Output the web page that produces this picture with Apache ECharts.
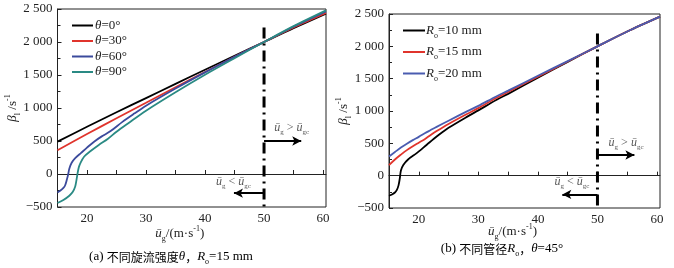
<!DOCTYPE html>
<html>
<head>
<meta charset="utf-8">
<script src="https://cdn.jsdelivr.net/npm/echarts@6/dist/echarts.min.js"></script>
<style>
  html, body { margin: 0; padding: 0; background: #fff; }
  #chart { width: 674px; height: 268px; }
</style>
</head>
<body>
<div id="chart"></div>
<script>
// panel (a): different swirl strength theta, Ro = 15 mm
const theta0 = [[15,490],[20,715],[25,935],[30,1150],[35,1365],[40,1580],[45,1790],[50,2000],[55,2210],[60.5,2430]];
const theta30 = [[15,360],[20,605],[25,845],[30,1080],[35,1315],[40,1545],[45,1775],[50,2000],[55,2220],[60.5,2440]];
const theta60 = [[15,-280],[15.5,-250],[16,-210],[16.3,-170],[16.6,-80],[16.8,-10],[17,80],[17.4,170],[18,240],[19,320],[20,400],[21.2,490],[22.5,570],[24,650],[26,790],[28,915],[30,1035],[35,1295],[40,1540],[45,1775],[50,2000],[55,2232],[60.5,2465]];
const theta90 = [[15,-440],[16,-395],[17,-330],[17.6,-270],[18,-190],[18.2,-100],[18.4,10],[18.6,100],[18.9,170],[19.5,262],[20.5,340],[22,440],[23.5,530],[25,640],[27,770],[30,960],[35,1240],[40,1505],[45,1755],[50,2000],[55,2240],[60.5,2480]];

// panel (b): different pipe radius Ro, theta = 45
const ro10 = [[15,-310],[15.5,-290],[16,-260],[16.3,-225],[16.6,-150],[16.8,-50],[17,80],[17.4,165],[18.2,250],[19.6,345],[21.3,475],[23,605],[24,675],[25,740],[28,905],[30,1010],[33,1170],[35,1265],[40,1515],[45,1760],[50,2000],[55,2230],[60.5,2460]];
const ro15 = [[15,162],[16,250],[17,325],[18,395],[19,455],[20,510],[21,565],[22,630],[23,690],[25,800],[28,950],[30,1045],[33,1200],[35,1295],[40,1530],[45,1765],[50,2000],[55,2230],[60.5,2460]];
const ro20 = [[15,295],[16,365],[17,435],[18,495],[19,550],[20,600],[21,655],[22,705],[23,755],[25,850],[28,990],[30,1080],[33,1225],[35,1315],[40,1545],[45,1772],[50,2000],[55,2230],[60.5,2460]];

// critical velocity marker and arrows
const criticalA = [[50,2220],[50,-500]];
const criticalB = [[50,2200],[50,-500]];
const arrowsA = [[[50,500],[56.3,500]],[[50,-290],[44.9,-290]]];
const arrowsB = [[[50,320],[56.2,320]],[[50,-290],[44.1,-290]]];
const notesA = [[54.7,700],[44.8,-115]];
const notesB = [[54.8,505],[45.7,-95]];

const xTicks = [20,25,30,35,40,45,50,55,60];
const xLabels = [20,30,40,50,60];

const SERIF = "'Liberation Serif','Times New Roman','Noto Sans CJK SC',serif";
const INK = '#222';

const richText = {
  n: { fontFamily: SERIF, fontSize: 13, color: INK },
  i: { fontFamily: SERIF, fontSize: 13, fontStyle: 'italic', color: INK },
  sub: { fontFamily: SERIF, fontSize: 8, color: INK, verticalAlign: 'bottom', lineHeight: 18 },
  sup: { fontFamily: SERIF, fontSize: 8, color: INK, verticalAlign: 'top', lineHeight: 18 },
  cn: { fontFamily: "'Noto Sans CJK SC',sans-serif", fontSize: 12, color: INK },
  s: { fontFamily: SERIF, fontSize: 12, color: '#555' },
  si: { fontFamily: SERIF, fontSize: 12, fontStyle: 'italic', color: '#555' },
  ssub: { fontFamily: SERIF, fontSize: 7, color: '#555', verticalAlign: 'bottom', lineHeight: 16 }
};

function fmtY(v) {
  const a = Math.abs(v);
  const s = a >= 1000 ? Math.floor(a / 1000) + ' ' + String(a % 1000).padStart(3, '0') : String(a);
  return v < 0 ? '\u2212' + s : s;
}

function xAxis(grid, gap) {
  return {
    type: 'value', gridIndex: grid, min: 15, max: 60.5,
    name: '{i|ū}{sub|g}{n|/(m·s}{sup|-1}{n|)}',
    nameLocation: 'middle', nameGap: gap, nameMoveOverlap: false,
    nameTextStyle: { rich: richText, padding: [0, 24, 0, 0] },
    axisLine: { lineStyle: { color: INK, width: 1 } },
    axisTick: { inside: true, length: 4, customValues: xTicks, lineStyle: { color: INK } },
    axisLabel: { customValues: xLabels, margin: 5, fontFamily: SERIF, fontSize: 13, color: INK },
    splitLine: { show: false }
  };
}

function yAxis(grid) {
  return {
    type: 'value', gridIndex: grid, min: -500, max: 2500, interval: 500,
    name: '{i|β}{sub|l}{n| /s}{sup|-1}',
    nameLocation: 'middle', nameRotate: 90, nameGap: 36, nameMoveOverlap: false,
    nameTextStyle: { rich: richText },
    axisLine: { show: true, lineStyle: { color: INK, width: 1 } },
    axisTick: { inside: true, length: 4, lineStyle: { color: INK } },
    minorTick: { show: true, splitNumber: 2, length: 3, lineStyle: { color: INK } },
    axisLabel: { formatter: fmtY, margin: 5, fontFamily: SERIF, fontSize: 13, color: INK },
    splitLine: { show: false }
  };
}

function curve(name, data, color, axis) {
  return {
    name: name, type: 'line', data: data, xAxisIndex: axis, yAxisIndex: axis,
    showSymbol: false, symbol: 'none', smooth: 0.3, silent: true,
    lineStyle: { color: color, width: 1.8 }, itemStyle: { color: color }, z: 3
  };
}

function marker(data, arrows, notes, axis) {
  return {
    type: 'line', data: data, xAxisIndex: axis, yAxisIndex: axis,
    symbol: 'none', silent: true,
    lineStyle: { color: '#000', width: 3, type: [11, 5, 2, 5] }, z: 4,
    markLine: {
      silent: true, symbol: ['none', 'arrow'], symbolSize: [7, 9],
      label: { show: false },
      lineStyle: { color: '#000', width: 2, type: 'solid' },
      data: arrows.map(a => [{ coord: a[0] }, { coord: a[1] }])
    },
    markPoint: {
      silent: true, symbol: 'circle', symbolSize: 0,
      label: { show: true, position: 'inside', rich: richText },
      data: [
        { coord: notes[0], label: { formatter: '{si|ū}{ssub|g}{s| > }{si|ū}{ssub|gc}' } },
        { coord: notes[1], label: { formatter: '{si|ū}{ssub|g}{s| < }{si|ū}{ssub|gc}' } }
      ]
    }
  };
}

const chart = echarts.init(document.getElementById('chart'), null, { renderer: 'canvas' });

chart.setOption({
  backgroundColor: '#fff',
  animation: false,
  grid: [
    { left: 57.5, top: 9, width: 268.5, height: 198, show: true, borderColor: INK, borderWidth: 1, containLabel: false },
    { left: 389, top: 14, width: 271, height: 194, show: true, borderColor: INK, borderWidth: 1, containLabel: false }
  ],
  legend: [
    {
      data: ['θ=0°', 'θ=30°', 'θ=60°', 'θ=90°'],
      orient: 'vertical', left: 67, top: 14, itemGap: 2.5,
      icon: 'rect', itemWidth: 21, itemHeight: 2,
      formatter: n => '{i|θ}{n|' + n.slice(1) + '}',
      textStyle: { rich: richText, padding: [0, 0, 0, -3] }
    },
    {
      data: ['Ro=10 mm', 'Ro=15 mm', 'Ro=20 mm'],
      orient: 'vertical', left: 398, top: 19, itemGap: 6,
      icon: 'rect', itemWidth: 22, itemHeight: 2,
      formatter: n => '{i|R}{sub|o}{n|' + n.slice(2) + '}',
      textStyle: { rich: richText, padding: [0, 0, 0, -4] }
    }
  ],
  xAxis: [xAxis(0, 18), xAxis(1, 15)],
  yAxis: [yAxis(0), yAxis(1)],
  series: [
    curve('θ=0°', theta0, '#000000', 0),
    curve('θ=30°', theta30, '#e0342c', 0),
    curve('θ=60°', theta60, '#3b4a9c', 0),
    curve('θ=90°', theta90, '#2a8a84', 0),
    marker(criticalA, arrowsA, notesA, 0),
    curve('Ro=10 mm', ro10, '#000000', 1),
    curve('Ro=15 mm', ro15, '#e0342c', 1),
    curve('Ro=20 mm', ro20, '#4a5cb0', 1),
    marker(criticalB, arrowsB, notesB, 1)
  ],
  graphic: [
    {
      type: 'text',
      style: { x: 171, y: 248, textAlign: 'center', text: '{n|(a) }{cn|不同旋流强度}{i|θ}{cn|，}{i|R}{sub|o}{n|=15 mm}', rich: richText }
    },
    {
      type: 'text',
      style: { x: 502, y: 240, textAlign: 'center', text: '{n|(b) }{cn|不同管径}{i|R}{sub|o}{cn|，}{i|θ}{n|=45°}', rich: richText }
    }
  ]
});
</script>
</body>
</html>
